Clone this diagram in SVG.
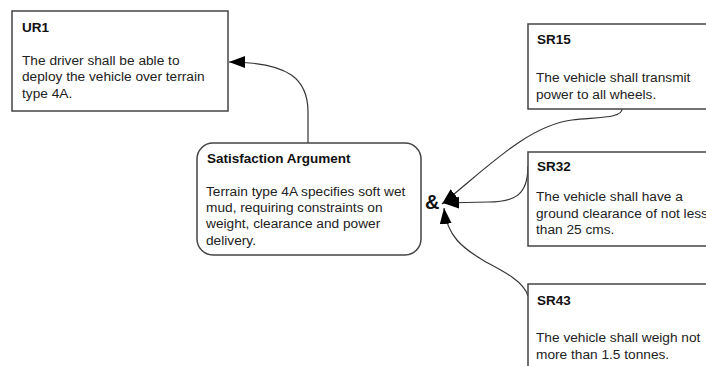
<svg xmlns="http://www.w3.org/2000/svg" width="706" height="366" viewBox="0 0 706 366">
  <style>
    .box { fill: #ffffff; stroke: #444444; stroke-width: 1.5; }
    .title { font-family: "Liberation Sans", Arial, sans-serif; font-size: 13.5px; font-weight: bold; fill: #111; }
    .body { font-family: "Liberation Sans", Arial, sans-serif; font-size: 13.7px; fill: #222; }
    .amp { font-family: "Liberation Sans", Arial, sans-serif; font-size: 20px; font-weight: bold; fill: #111; }
    .edge { fill: none; stroke: #333; stroke-width: 1.2; marker-end: url(#head); }
  </style>
  <defs>
    <marker id="head" viewBox="0 0 16 12" refX="16" refY="6" markerWidth="16" markerHeight="12" markerUnits="userSpaceOnUse" orient="auto">
      <path d="M0,0 L16,6 L0,12 z" fill="#000"/>
    </marker>
  </defs>
  <rect width="706" height="366" fill="#ffffff"/>

  <g id="connectors">
    <path class="edge" d="M308,143 V112 C308,80 290,62 229,62"/>
    <path class="edge" d="M622,109 C622,118 600,117 572,120 C528,126 490,165 442,204"/>
    <path class="edge" d="M528,166 C528,195 515,202 488,202 L443,203"/>
    <path class="edge" d="M528,296 C524,282 505,272 486,262 C462,248 447,236 444,208"/>
  </g>

  <g id="UR1">
    <rect class="box" x="12" y="11" width="216" height="100"/>
    <text class="title" x="22" y="32">UR1</text>
    <text class="body" x="22" y="65">The driver shall be able to</text>
    <text class="body" x="22" y="81">deploy the vehicle over terrain</text>
    <text class="body" x="22" y="98">type 4A.</text>
  </g>

  <g id="satisfaction-argument">
    <rect class="box" x="197" y="143" width="224" height="112" rx="16" ry="16"/>
    <text class="title" x="207" y="163">Satisfaction Argument</text>
    <text class="body" x="206" y="196">Terrain type 4A specifies soft wet</text>
    <text class="body" x="206" y="212">mud, requiring constraints on</text>
    <text class="body" x="206" y="228">weight, clearance and power</text>
    <text class="body" x="206" y="245">delivery.</text>
  </g>

  <g id="and-junction">
    <text class="amp" x="425" y="209">&amp;</text>
  </g>

  <g id="SR15">
    <rect class="box" x="528" y="24" width="190" height="85"/>
    <text class="title" x="537" y="44">SR15</text>
    <text class="body" x="536" y="82">The vehicle shall transmit</text>
    <text class="body" x="536" y="99">power to all wheels.</text>
  </g>

  <g id="SR32">
    <rect class="box" x="528" y="152" width="190" height="94"/>
    <text class="title" x="537" y="171">SR32</text>
    <text class="body" x="536" y="201">The vehicle shall have a</text>
    <text class="body" x="536" y="218">ground clearance of not less</text>
    <text class="body" x="536" y="234">than 25 cms.</text>
  </g>

  <g id="SR43">
    <rect class="box" x="528" y="284" width="190" height="100"/>
    <text class="title" x="537" y="305">SR43</text>
    <text class="body" x="536" y="342">The vehicle shall weigh not</text>
    <text class="body" x="536" y="359">more than 1.5 tonnes.</text>
  </g>
</svg>
